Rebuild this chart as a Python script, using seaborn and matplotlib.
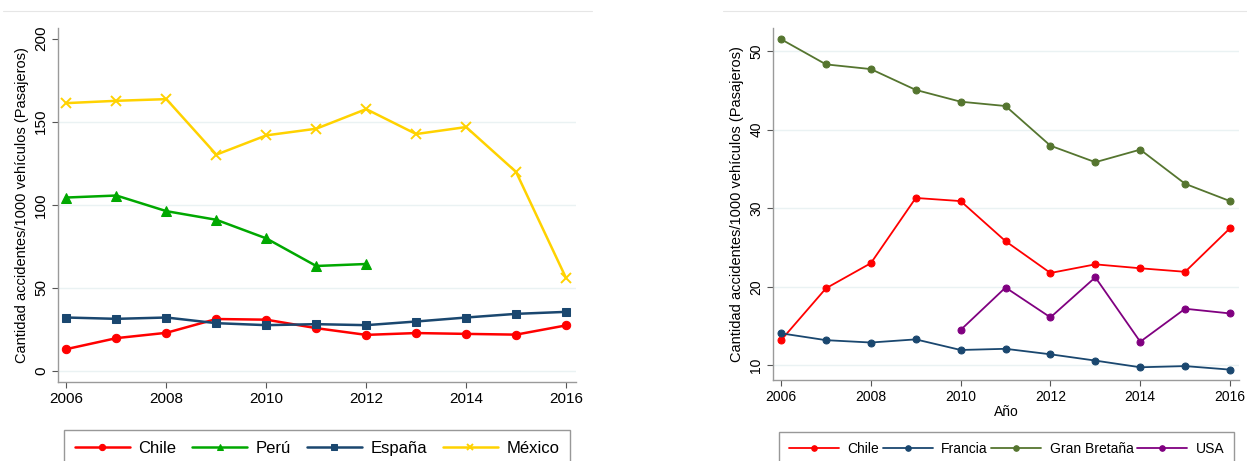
import numpy as np
import pandas as pd
import matplotlib
matplotlib.use('Agg')
import matplotlib.pyplot as plt
import seaborn as sns

years = [2006, 2007, 2008, 2009, 2010, 2011, 2012, 2013, 2014, 2015, 2016]

# left panel
chile = [13.2, 19.8, 23.0, 31.3, 30.9, 25.8, 21.75, 22.85, 22.35, 21.9, 27.45]
peru = [104.4, 105.6, 96.2, 91.0, 79.8, 63.2, 64.4]
espana = [32.2, 31.4, 32.2, 28.8, 27.6, 28.2, 27.6, 29.8, 32.2, 34.4, 35.6]
mexico = [161.2, 162.6, 163.6, 130.2, 141.8, 145.8, 157.6, 142.6, 146.8, 119.8, 56.0]

# right panel
francia = [14.07, 13.2, 12.9, 13.3, 11.95, 12.1, 11.4, 10.6, 9.75, 9.9, 9.45]
gran_bretana = [51.5, 48.3, 47.7, 45.05, 43.55, 43.0, 37.95, 35.85, 37.45, 33.1, 30.9]
usa = [14.5, 19.9, 16.1, 21.2, 13.0, 17.2, 16.6]
usa_years = years[4:]

ylab = 'Cantidad accidentes/1000 vehículos (Pasajeros)'

sns.set_style('white')
plt.rcParams['font.family'] = ['Liberation Sans', 'DejaVu Sans']
plt.rcParams['text.color'] = 'black'
plt.rcParams['axes.labelcolor'] = 'black'
plt.rcParams['xtick.color'] = 'black'
plt.rcParams['ytick.color'] = 'black'

W, H = 1247, 461
fig = plt.figure(figsize=(W / 100, H / 100), dpi=100)

# faint graph-region outlines at the top
fig.add_artist(plt.Line2D([3 / W, 592 / W], [1 - 11 / H, 1 - 11 / H], color='#e6e6e6', lw=0.8))
fig.add_artist(plt.Line2D([723 / W, 1247 / W], [1 - 11 / H, 1 - 11 / H], color='#e6e6e6', lw=0.8))


def ax_box(x0, x1, top, bottom):
    return [x0 / W, 1 - bottom / H, (x1 - x0) / W, (bottom - top) / H]


def style_axes(ax, fs):
    for s in ['top', 'right']:
        ax.spines[s].set_visible(False)
    for s in ['left', 'bottom']:
        ax.spines[s].set_color('#9a9a9a')
        ax.spines[s].set_linewidth(1.0)
    ax.tick_params(axis='both', direction='out', length=4, width=0.8, color='#555555',
                   labelsize=fs, labelcolor='black', left=True, bottom=True, pad=3)
    ax.tick_params(axis='y', labelrotation=90)
    for t in ax.get_yticklabels():
        t.set_va('center')
    ax.grid(axis='y', color='#eaf2f3', lw=1.0)
    ax.set_axisbelow(True)


# ---------- left ----------
ax1 = fig.add_axes(ax_box(58, 576, 28, 382))
sns.lineplot(x=years, y=chile, color='#ff0000', marker='o', markersize=6,
             markeredgecolor='#ff0000', lw=1.8, label='Chile', ax=ax1)
sns.lineplot(x=years[:7], y=peru, color='#00a800', marker='^', markersize=6.5,
             markeredgecolor='#00a800', lw=1.8, label='Perú', ax=ax1)
sns.lineplot(x=years, y=espana, color='#1a476f', marker='s', markersize=5.5,
             markeredgecolor='#1a476f', lw=1.8, label='España', ax=ax1)
sns.lineplot(x=years, y=mexico, color='#ffd200', marker='x', markersize=6.5,
             markeredgecolor='#ffd200', markeredgewidth=1.4, lw=1.8, label='México', ax=ax1)
ax1.set_xlim(2005.83, 2016.2)
ax1.set_ylim(-6.6, 206.4)
ax1.set_xticks([2006, 2008, 2010, 2012, 2014, 2016])
ax1.set_yticks([0, 50, 100, 150, 200])
ax1.set_xlabel('')
ax1.set_ylabel(ylab, fontsize=10.5, labelpad=4)
style_axes(ax1, 11)
ax1.yaxis.get_gridlines()[-1].set_visible(False)
h, l = ax1.get_legend_handles_labels()
lg = ax1.legend(h, l, ncol=4, loc='upper left', mode='expand',
                bbox_to_anchor=(64 / W, 1 - 430 / H - 0.1, 506 / W, 0.1),
                bbox_transform=fig.transFigure, fontsize=12, frameon=True, fancybox=False,
                handlelength=3.3, handletextpad=0.5, borderaxespad=0, borderpad=0.65,
                markerscale=0.75)
lg.get_frame().set_edgecolor('#7f7f7f')
lg.get_frame().set_linewidth(1.0)

# ---------- right ----------
ax2 = fig.add_axes(ax_box(773, 1239, 28, 380))
sns.lineplot(x=years, y=chile, color='#ff0000', marker='o', markersize=5,
             markeredgecolor='#ff0000', lw=1.3, label='Chile', ax=ax2)
sns.lineplot(x=years, y=francia, color='#1a476f', marker='o', markersize=5,
             markeredgecolor='#1a476f', lw=1.3, label='Francia', ax=ax2)
sns.lineplot(x=years, y=gran_bretana, color='#55752f', marker='o', markersize=5,
             markeredgecolor='#55752f', lw=1.3, label='Gran Bretaña', ax=ax2)
sns.lineplot(x=usa_years, y=usa, color='#800080', marker='o', markersize=5,
             markeredgecolor='#800080', lw=1.3, label='USA', ax=ax2)
ax2.set_xlim(2005.82, 2016.2)
ax2.set_ylim(8.13, 52.93)
ax2.set_xticks([2006, 2008, 2010, 2012, 2014, 2016])
ax2.set_yticks([10, 20, 30, 40, 50])
ax2.set_xlabel('Año', fontsize=10, labelpad=1)
ax2.set_ylabel(ylab, fontsize=10.5, labelpad=4)
style_axes(ax2, 10)
h, l = ax2.get_legend_handles_labels()
lg2 = ax2.legend(h, l, ncol=4, loc='upper left', mode='expand',
                 bbox_to_anchor=(779 / W, 1 - 432 / H - 0.1, 455 / W, 0.1),
                 bbox_transform=fig.transFigure, fontsize=10, frameon=True, fancybox=False,
                 handlelength=3.6, handletextpad=0.6, borderaxespad=0, borderpad=0.7,
                 markerscale=0.8)
lg2.get_frame().set_edgecolor('#7f7f7f')
lg2.get_frame().set_linewidth(1.0)

fig.savefig('out.png', dpi=100)
